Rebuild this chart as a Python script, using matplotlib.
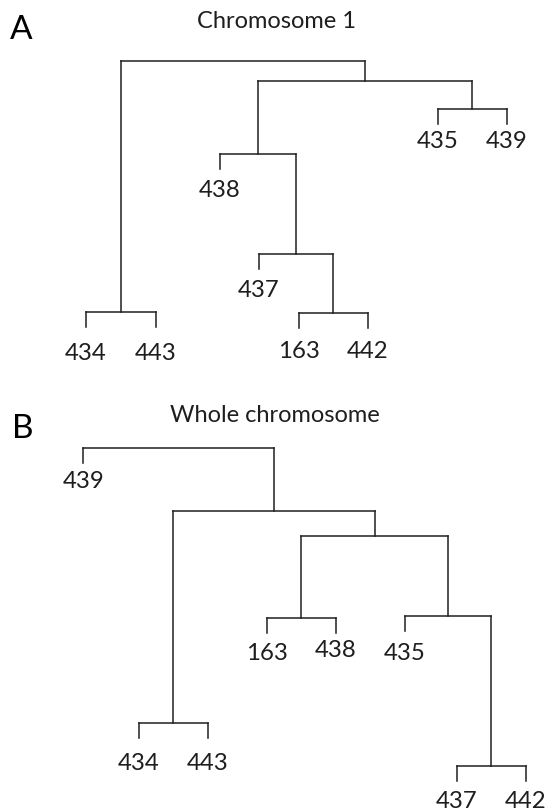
import matplotlib
matplotlib.use("Agg")
import matplotlib.pyplot as plt

plt.rcParams['font.family'] = ['Lato', 'DejaVu Sans']

# --- panel A: chromosome 1 ---
title_a = "Chromosome 1"
leaves_a = ["434", "443", "438", "437", "163", "442", "435", "439"]
leaf_pos_a = [0.0, 1.01, 1.94, 2.5, 3.09, 4.08, 5.1, 6.1]
# merges: (left, right, height); ints >= len(leaves) point at earlier merges
merges_a = [
    (4, 5, 0.53),     # 163 + 442
    (3, 8, 2.74),     # 437 + (163,442)
    (2, 9, 6.5),      # 438 + ...
    (6, 7, 8.2),      # 435 + 439
    (10, 11, 9.25),
    (0, 1, 0.56),     # 434 + 443
    (13, 12, 10.0),
]

# --- panel B: whole chromosome ---
title_b = "Whole chromosome"
leaves_b = ["439", "434", "443", "163", "438", "435", "437", "442"]
leaf_pos_b = [0.0, 0.8, 1.8, 2.65, 3.65, 4.65, 5.4, 6.4]
merges_b = [
    (6, 7, 0.53),     # 437 + 442
    (5, 8, 6.17),     # 435 + (437,442)
    (3, 4, 6.09),     # 163 + 438
    (10, 9, 9.17),
    (1, 2, 2.14),     # 434 + 443
    (12, 11, 10.11),
    (0, 13, 12.48),
]

STUB = 0.56
LINE = '#1f1f1f'
TXT = '#1e1e1e'

# label gap (px) under each leaf tip, in leaf order
gap_a = [16, 16, 11, 11, 13, 13, 7, 7]
gap_b = [8, 15, 15, 10, 7, 12, 10, 10]


def draw_tree(ax, leaves, pos, merges, gaps):
    n = len(leaves)
    xs = list(pos)
    hs = [None] * n
    for left, right, h in merges:
        for c in (left, right):
            if c < n:
                bottom = h - STUB
                ax.plot([xs[c], xs[c]], [bottom, h], color=LINE, lw=1.1)
                ax.annotate(leaves[c], (xs[c], bottom), xytext=(0, -gaps[c] * 0.72),
                            textcoords='offset points', ha='center', va='top',
                            fontsize=17.3, color=TXT)
            else:
                ax.plot([xs[c], xs[c]], [hs[c], h], color=LINE, lw=1.1)
        ax.plot([xs[left], xs[right]], [h, h], color=LINE, lw=1.1)
        xs.append((xs[left] + xs[right]) / 2)
        hs.append(h)


fig = plt.figure(figsize=(5.47, 8.08), dpi=100)
W, H = 547, 808
XU, YU = 69.0, 26.6   # px per unit

ax_a = fig.add_axes([0, 408 / H, 1, 400 / H])
ax_a.set_xlim(-86 / XU, (W - 86) / XU)
ax_a.set_ylim(-(400 - 327) / YU, 327 / YU)
ax_a.axis('off')
draw_tree(ax_a, leaves_a, leaf_pos_a, merges_a, gap_a)

ax_b = fig.add_axes([0, 0, 1, 408 / H])
ax_b.set_xlim(-83.2 / 69.2, (W - 83.2) / 69.2)
ax_b.set_ylim(-(808 - 780) / YU, (780 - 400) / YU)
ax_b.axis('off')
draw_tree(ax_b, leaves_b, leaf_pos_b, merges_b, gap_b)

fig.text(277 / W, 1 - 22 / H, title_a, ha='center', va='center', fontsize=17, color=TXT)
fig.text(275 / W, 1 - 416 / H, title_b, ha='center', va='center', fontsize=17, color=TXT)
fig.text(10 / W, 1 - 30 / H, "A", ha='left', va='center', fontsize=24, color='black')
fig.text(12 / W, 1 - 429 / H, "B", ha='left', va='center', fontsize=24, color='black')

fig.savefig("out.png", dpi=100)
